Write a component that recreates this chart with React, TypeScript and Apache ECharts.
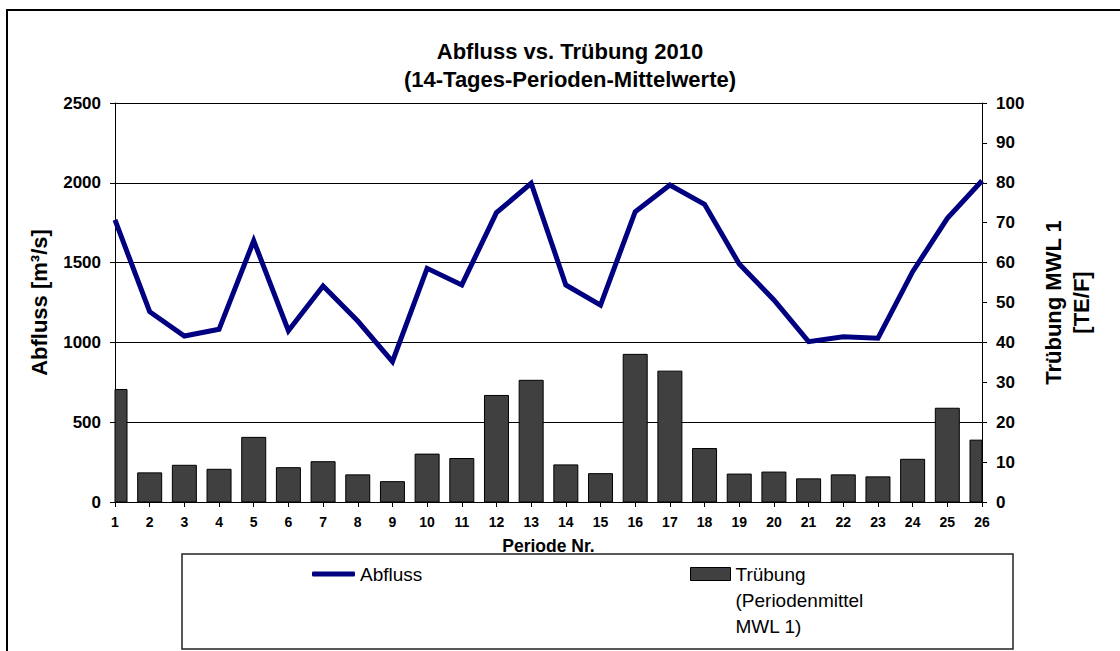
import React, { useEffect, useRef } from "react";
import * as echarts from "echarts";

const periods = ["1","2","3","4","5","6","7","8","9","10","11","12","13","14","15","16","17","18","19","20","21","22","23","24","25","26"];
const abfluss = [1767,1192,1040,1082,1637,1073,1353,1134,880,1464,1360,1813,1997,1360,1234,1819,1986,1865,1491,1266,1005,1036,1026,1443,1777,2013];
const truebung = [28.2,7.3,9.2,8.2,16.2,8.6,10.1,6.8,5.1,12.0,10.9,26.7,30.5,9.3,7.1,37.0,32.8,13.4,7.0,7.5,5.8,6.8,6.3,10.7,23.5,15.5];
const titleText = "Abfluss vs. Trübung 2010\n(14-Tages-Perioden-Mittelwerte)";
const leftName = "Abfluss [m³/s]";
const rightName = "Trübung MWL 1\n[TE/F]";
const xName = "Periode Nr.";
const lineName = "Abfluss";
const barName = "Trübung";
const barLegendText = "\n\nTrübung\n(Periodenmittel\nMWL 1)";

const FONT = "'Liberation Sans', Arial, sans-serif";
const BAR_FILL = "#404040";
const BAR_W = 24;

export default function App() {
  const ref = useRef<HTMLDivElement>(null);
  useEffect(() => {
    if (!ref.current) return;
    const chart = echarts.init(ref.current, null, { renderer: "svg" });
    const barData = truebung.map((v, i) => [i, v]);
    chart.setOption({
      animation: false,
      backgroundColor: "#ffffff",
      textStyle: { fontFamily: FONT },
      title: {
        text: titleText,
        left: 565,
        top: 32,
        textAlign: "center",
        textStyle: { fontFamily: FONT, fontSize: 22, fontWeight: "bold", color: "#000", lineHeight: 28 },
      },
      graphic: [
        {
          type: "rect",
          shape: { x: 7, y: 10, width: 1200, height: 700 },
          style: { fill: "none", stroke: "#000", lineWidth: 2 },
          silent: true,
          z: 0,
        },
        {
          type: "rect",
          shape: { x: 182, y: 554, width: 831, height: 95 },
          style: { fill: "#fff", stroke: "#222", lineWidth: 1.5 },
          silent: true,
          z: 0,
        },
      ],
      legend: [
        {
          data: [lineName],
          left: 312,
          top: 564,
          padding: 0,
          icon: "roundRect",
          itemWidth: 43,
          itemHeight: 5,
          itemGap: 2,
          textStyle: { fontFamily: FONT, fontSize: 19, color: "#000", lineHeight: 20 },
          z: 10,
        },
        {
          data: [barName],
          left: 690,
          top: 509,
          padding: 0,
          icon: "rect",
          itemWidth: 40,
          itemHeight: 13,
          itemGap: 2,
          itemStyle: { color: BAR_FILL, borderColor: "#000", borderWidth: 1 },
          formatter: () => barLegendText,
          textStyle: { fontFamily: FONT, fontSize: 19, color: "#000", lineHeight: 26 },
          z: 10,
        },
      ],
      grid: { left: 115, right: 138, top: 103, bottom: 149, containLabel: false },
      xAxis: {
        type: "category",
        data: periods,
        boundaryGap: false,
        name: xName,
        nameLocation: "middle",
        nameGap: 35,
        nameTextStyle: { fontFamily: FONT, fontSize: 17.5, fontWeight: "bold", color: "#000" },
        axisLine: { show: true, lineStyle: { color: "#000", width: 1 } },
        axisTick: { show: true, interval: 0, length: 5, lineStyle: { color: "#000" } },
        axisLabel: { interval: 0, margin: 13, fontFamily: FONT, fontSize: 14, fontWeight: "bold", color: "#000" },
        splitLine: { show: false },
      },
      yAxis: [
        {
          type: "value",
          min: 0,
          max: 2500,
          interval: 500,
          position: "left",
          name: leftName,
          nameLocation: "middle",
          nameGap: 65,
          nameTextStyle: { fontFamily: FONT, fontSize: 22, fontWeight: "bold", color: "#000" },
          axisLine: { show: true, lineStyle: { color: "#000", width: 1 } },
          axisTick: { show: true, length: 5, lineStyle: { color: "#000" } },
          axisLabel: { margin: 14, fontFamily: FONT, fontSize: 17, fontWeight: "bold", color: "#000", formatter: (v: number) => String(v) },
          splitLine: { show: true, lineStyle: { color: "#000", width: 1 } },
        },
        {
          type: "value",
          min: 0,
          max: 100,
          interval: 10,
          position: "right",
          name: rightName,
          nameLocation: "middle",
          nameGap: 57,
          nameTextStyle: { fontFamily: FONT, fontSize: 22, fontWeight: "bold", color: "#000", lineHeight: 28, align: "center" },
          axisLine: { show: true, lineStyle: { color: "#000", width: 1 } },
          axisTick: { show: true, length: 5, lineStyle: { color: "#000" } },
          axisLabel: { margin: 14, fontFamily: FONT, fontSize: 17, fontWeight: "bold", color: "#000", formatter: (v: number) => String(v) },
          splitLine: { show: false },
        },
      ],
      series: [
        {
          name: barName,
          type: "custom",
          yAxisIndex: 1,
          data: barData,
          encode: { x: 0, y: 1 },
          itemStyle: { color: BAR_FILL, borderColor: "#000", borderWidth: 1 },
          renderItem: (params: any, api: any) => {
            const idx = api.value(0);
            const val = api.value(1);
            const top = api.coord([idx, val]);
            const base = api.coord([idx, 0]);
            const cs = params.coordSys;
            const shape = echarts.graphic.clipRectByRect(
              { x: top[0] - BAR_W / 2, y: top[1], width: BAR_W, height: base[1] - top[1] },
              { x: cs.x, y: cs.y, width: cs.width, height: cs.height }
            );
            return shape && {
              type: "rect",
              shape,
              style: { fill: BAR_FILL, stroke: "#000", lineWidth: 1 },
            };
          },
          z: 2,
        },
        {
          name: lineName,
          type: "line",
          yAxisIndex: 0,
          data: abfluss,
          showSymbol: false,
          symbol: "none",
          clip: true,
          lineStyle: { color: "#000080", width: 5, join: "miter" },
          itemStyle: { color: "#000080" },
          z: 3,
        },
      ],
    });
    return () => chart.dispose();
  }, []);
  return (
    <div
      ref={ref}
      style={{ position: "fixed", left: 0, top: 0, width: 1120, height: 651, background: "#fff" }}
    />
  );
}
